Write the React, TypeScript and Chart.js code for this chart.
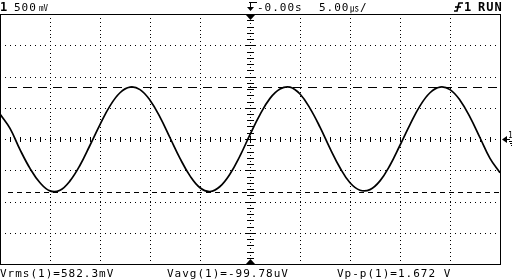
import React, { useEffect, useRef } from "react";
import { Chart, registerables } from "chart.js";

Chart.register(...registerables);

// time base: 5 µs/div, 10 divisions, trigger at 0
const timeUs = [
  -25, -24, -23, -22, -21, -20, -19, -18, -17, -16, -15, -14, -13, -12, -11, -10, -9, -8, -7, -6, -5, -4, -3, -2, -1,
  0, 1, 2, 3, 4, 5, 6, 7, 8, 9, 10, 11, 12, 13, 14, 15, 16, 17, 18, 19, 20, 21, 22, 23, 24, 25,
];
// channel 1 trace, volts (500 mV/div)
const ch1Volts = [
  0.4, 0.17, -0.17, -0.47, -0.7, -0.83, -0.82, -0.67, -0.42, -0.1, 0.23, 0.53, 0.74, 0.83, 0.79, 0.62, 0.35, 0.02, -0.31,
  -0.59, -0.78, -0.84, -0.76, -0.56, -0.27, 0.07, 0.39, 0.65, 0.8, 0.83, 0.72, 0.49, 0.19, -0.15, -0.46, -0.7, -0.82,
  -0.81, -0.67, -0.42, -0.1, 0.23, 0.53, 0.74, 0.83, 0.79, 0.62, 0.35, 0.02, -0.31, -0.54,
];
const xDivisions = [-25, -20, -15, -10, -5, 0, 5, 10, 15, 20, 25];
const yDivisions = [-2, -1.5, -1, -0.5, 0, 0.5, 1, 1.5, 2];
const cursorMaxV = 0.83;
const cursorMinV = -0.842;

const channelLabel = "1";
const voltsPerDiv = "500";
const voltsUnit = "㎷";
const delayLabel = "-0.00s";
const timePerDiv = "5.00";
const timeUnit = "㎲";
const trigChannel = "1";
const runLabel = "RUN";
const measurements = ["Vrms(1)=582.3mV", "Vavg(1)=-99.78uV", "Vp-p(1)=1.672 V"];
const measurementX = [0, 167, 337];

const MONO = '"DejaVu Sans Mono", "Liberation Mono", monospace';

const scopePlugin = {
  id: "scope",
  beforeDatasetsDraw(chart: any) {
    const { ctx, chartArea: a, scales } = chart;
    const x = scales.x;
    const y = scales.y;
    ctx.save();
    ctx.fillStyle = "#000";
    const cx = Math.round(x.getPixelForValue(0));
    const cy = Math.round(y.getPixelForValue(0));
    // dotted vertical gridlines
    for (const t of xDivisions) {
      if (t === 0 || t === xDivisions[0] || t === xDivisions[xDivisions.length - 1]) continue;
      const px = Math.round(x.getPixelForValue(t));
      for (let py = a.top + 4; py < a.bottom - 1; py += 3.9) ctx.fillRect(px, Math.round(py), 1, 1);
    }
    // dotted horizontal gridlines
    for (const v of yDivisions) {
      if (v === 0 || v === yDivisions[0] || v === yDivisions[yDivisions.length - 1]) continue;
      const py = Math.round(y.getPixelForValue(v));
      for (let px = a.left + 5; px < a.right - 1; px += 5) ctx.fillRect(px, py, 1, 1);
    }
    // horizontal center axis with ticks every 1 µs
    for (let t = -25; t <= 25; t += 1) {
      const px = Math.round(x.getPixelForValue(t));
      ctx.fillRect(px, cy - 2, 1, 5);
      const pm = Math.round(x.getPixelForValue(t + 0.5));
      if (t < 25) ctx.fillRect(pm, cy, 1, 1);
    }
    // vertical center axis with ticks every 0.1 V
    for (let k = -20; k <= 20; k += 1) {
      const v = k / 10;
      const py = Math.round(y.getPixelForValue(v));
      const major = k % 5 === 0;
      const w = major ? 5 : 3;
      ctx.fillRect(cx - w, py, 2 * w + 1, 1);
      if (k < 20) {
        const pm = Math.round(y.getPixelForValue(v + 0.05));
        ctx.fillRect(cx, pm, 1, 1);
      }
    }
    ctx.fillRect(cx, a.top, 1, 1);
    // cursor lines
    ctx.strokeStyle = "#000";
    ctx.lineWidth = 1;
    const yMax = Math.round(y.getPixelForValue(cursorMaxV)) + 0.5;
    const yMin = Math.round(y.getPixelForValue(cursorMinV)) + 0.5;
    ctx.setLineDash([9, 6]);
    ctx.beginPath();
    ctx.moveTo(a.left + 8, yMax);
    ctx.lineTo(a.right, yMax);
    ctx.stroke();
    ctx.setLineDash([5, 4]);
    ctx.beginPath();
    ctx.moveTo(a.left + 8, yMin);
    ctx.lineTo(a.right, yMin);
    ctx.stroke();
    ctx.setLineDash([]);
    ctx.restore();
  },
  afterDraw(chart: any) {
    const { ctx, chartArea: a, scales } = chart;
    const x = scales.x;
    const y = scales.y;
    const cx = Math.round(x.getPixelForValue(0));
    const cy = Math.round(y.getPixelForValue(0));
    ctx.save();
    ctx.fillStyle = "#000";
    ctx.strokeStyle = "#000";
    ctx.lineWidth = 1;
    // frame
    ctx.strokeRect(a.left + 0.5, a.top + 0.5, a.right - a.left, a.bottom - a.top);
    // trigger position markers
    ctx.beginPath();
    ctx.moveTo(cx - 4, a.top + 1);
    ctx.lineTo(cx + 5, a.top + 1);
    ctx.lineTo(cx + 0.5, a.top + 6);
    ctx.closePath();
    ctx.fill();
    ctx.beginPath();
    ctx.moveTo(cx - 4, a.bottom);
    ctx.lineTo(cx + 5, a.bottom);
    ctx.lineTo(cx + 0.5, a.bottom - 5);
    ctx.closePath();
    ctx.fill();
    // ground marker on the right
    const gx = a.right + 2;
    ctx.beginPath();
    ctx.moveTo(gx, cy + 0.5);
    ctx.lineTo(gx + 5, cy - 3);
    ctx.lineTo(gx + 5, cy + 4);
    ctx.closePath();
    ctx.fill();
    ctx.fillRect(gx + 5, cy, 3, 1);
    ctx.font = `8px ${MONO}`;
    ctx.textBaseline = "alphabetic";
    ctx.fillText(channelLabel, gx + 6, cy - 1);
    ctx.fillRect(gx + 7, cy + 2, 5, 1);
    ctx.fillRect(gx + 8, cy + 4, 3, 1);
    ctx.fillRect(gx + 9, cy + 6, 1, 1);

    // header
    (ctx as any).letterSpacing = "1px";
    ctx.font = `bold 12px ${MONO}`;
    ctx.fillText(channelLabel, 0, 11);
    ctx.font = `11px ${MONO}`;
    ctx.fillText(voltsPerDiv, 14, 11);
    (ctx as any).letterSpacing = "0px";
    ctx.font = `9px "Noto Sans CJK JP"`;
    ctx.fillText(voltsUnit, 39, 11);
    // trigger delay symbol
    ctx.fillRect(cx - 1, 2, 8, 1);
    ctx.fillRect(cx, 2, 1, 7);
    ctx.beginPath();
    ctx.moveTo(cx - 3, 7);
    ctx.lineTo(cx + 4, 7);
    ctx.lineTo(cx + 0.5, 11);
    ctx.closePath();
    ctx.fill();
    (ctx as any).letterSpacing = "1px";
    ctx.font = `11px ${MONO}`;
    ctx.fillText(delayLabel, 257, 11);
    ctx.fillText(timePerDiv, 319, 11);
    (ctx as any).letterSpacing = "0px";
    ctx.font = `9px "Noto Sans CJK JP"`;
    ctx.fillText(timeUnit, 350, 11);
    ctx.font = `11px ${MONO}`;
    ctx.fillText("/", 360, 11);
    // trigger slope symbol
    ctx.lineWidth = 1.6;
    ctx.beginPath();
    ctx.moveTo(454, 11);
    ctx.lineTo(457, 11);
    ctx.lineTo(459, 3);
    ctx.lineTo(463, 3);
    ctx.stroke();
    ctx.beginPath();
    ctx.moveTo(455, 7);
    ctx.lineTo(461, 7);
    ctx.stroke();
    (ctx as any).letterSpacing = "1px";
    ctx.font = `bold 12px ${MONO}`;
    ctx.fillText(trigChannel, 464, 11);
    ctx.fillText(runLabel, 478, 11);
    // measurements
    ctx.font = `11px ${MONO}`;
    measurements.forEach((m, i) => ctx.fillText(m, measurementX[i], 277));
    ctx.restore();
  },
};

export default function App() {
  const ref = useRef<HTMLCanvasElement | null>(null);
  useEffect(() => {
    document.body.style.margin = "0";
    const canvas = ref.current;
    if (!canvas) return;
    const chart = new Chart(canvas, {
      type: "line",
      data: {
        datasets: [
          {
            label: "CH1",
            data: timeUs.map((t, i) => ({ x: t, y: ch1Volts[i] })),
            borderColor: "#000",
            borderWidth: 1.7,
            pointRadius: 0,
            tension: 0.4,
            fill: false,
          },
        ],
      },
      options: {
        responsive: false,
        animation: false,
        devicePixelRatio: 1,
        layout: { padding: { left: 0, right: 12, top: 14, bottom: 16 } },
        plugins: { legend: { display: false }, tooltip: { enabled: false }, title: { display: false } },
        events: [],
        scales: {
          x: { type: "linear", min: -25, max: 25, display: false },
          y: { type: "linear", min: -2, max: 2, display: false },
        },
      },
      plugins: [scopePlugin],
    });
    return () => chart.destroy();
  }, []);
  return (
    <div style={{ width: 512, height: 280, background: "#fff" }}>
      <canvas ref={ref} width={512} height={280} style={{ display: "block" }} />
    </div>
  );
}
